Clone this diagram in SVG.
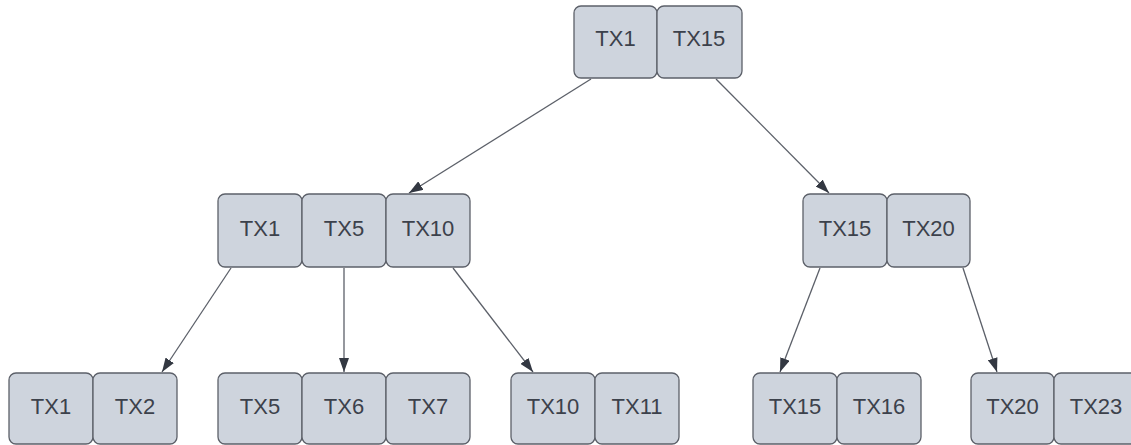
<svg xmlns="http://www.w3.org/2000/svg" width="1131" height="445" viewBox="0 0 1131 445">
<defs>
<style>
.b{fill:#ced4dd;stroke:#5c6069;stroke-width:1.3}
.t{font-family:"Liberation Sans",Arial,sans-serif;font-size:22px;fill:#3c414b;text-anchor:middle}
.c{stroke:#5c6069;stroke-width:1.3;fill:none;marker-end:url(#ah)}
</style>
<marker id="ah" viewBox="0 0 14 10" refX="14" refY="5" markerWidth="14" markerHeight="10" markerUnits="userSpaceOnUse" orient="auto">
<path d="M0,0 L14,5 L0,10 Z" fill="#333842"/>
</marker>
</defs>
<rect width="1131" height="445" fill="#fff"/>
<g id="connectors">
<line class="c" x1="591" y1="79" x2="409" y2="193"/>
<line class="c" x1="716" y1="79" x2="829" y2="193"/>
<line class="c" x1="231" y1="268" x2="162" y2="372"/>
<line class="c" x1="344" y1="268" x2="344" y2="372"/>
<line class="c" x1="453" y1="268" x2="533" y2="372"/>
<line class="c" x1="820" y1="268" x2="780" y2="372"/>
<line class="c" x1="963" y1="268" x2="997" y2="372"/>
</g>
<g id="root">
<rect class="b" x="574" y="6" width="83" height="72" rx="7"/>
<text class="t" x="615.5" y="46">TX1</text>
<rect class="b" x="657" y="6" width="85" height="72" rx="7"/>
<text class="t" x="699" y="46">TX15</text>
</g>
<g id="mid-left">
<rect class="b" x="218" y="194" width="84" height="73" rx="7"/>
<text class="t" x="260" y="236">TX1</text>
<rect class="b" x="302" y="194" width="84" height="73" rx="7"/>
<text class="t" x="344" y="236">TX5</text>
<rect class="b" x="386" y="194" width="84" height="73" rx="7"/>
<text class="t" x="428" y="236">TX10</text>
</g>
<g id="mid-right">
<rect class="b" x="803" y="194" width="84" height="73" rx="7"/>
<text class="t" x="845" y="236">TX15</text>
<rect class="b" x="887" y="194" width="83" height="73" rx="7"/>
<text class="t" x="928.5" y="236">TX20</text>
</g>
<g id="leaf1">
<rect class="b" x="9" y="373" width="84" height="71" rx="7"/>
<text class="t" x="51" y="414">TX1</text>
<rect class="b" x="93" y="373" width="84" height="71" rx="7"/>
<text class="t" x="135" y="414">TX2</text>
</g>
<g id="leaf2">
<rect class="b" x="218" y="373" width="84" height="71" rx="7"/>
<text class="t" x="260" y="414">TX5</text>
<rect class="b" x="302" y="373" width="84" height="71" rx="7"/>
<text class="t" x="344" y="414">TX6</text>
<rect class="b" x="386" y="373" width="84" height="71" rx="7"/>
<text class="t" x="428" y="414">TX7</text>
</g>
<g id="leaf3">
<rect class="b" x="511" y="373" width="84" height="71" rx="7"/>
<text class="t" x="553" y="414">TX10</text>
<rect class="b" x="595" y="373" width="84" height="71" rx="7"/>
<text class="t" x="637" y="414">TX11</text>
</g>
<g id="leaf4">
<rect class="b" x="753" y="373" width="84" height="71" rx="7"/>
<text class="t" x="795" y="414">TX15</text>
<rect class="b" x="837" y="373" width="84" height="71" rx="7"/>
<text class="t" x="879" y="414">TX16</text>
</g>
<g id="leaf5">
<rect class="b" x="971" y="373" width="83" height="71" rx="7"/>
<text class="t" x="1012.5" y="414">TX20</text>
<rect class="b" x="1054" y="373" width="84" height="71" rx="7"/>
<text class="t" x="1096" y="414">TX23</text>
</g>
</svg>
